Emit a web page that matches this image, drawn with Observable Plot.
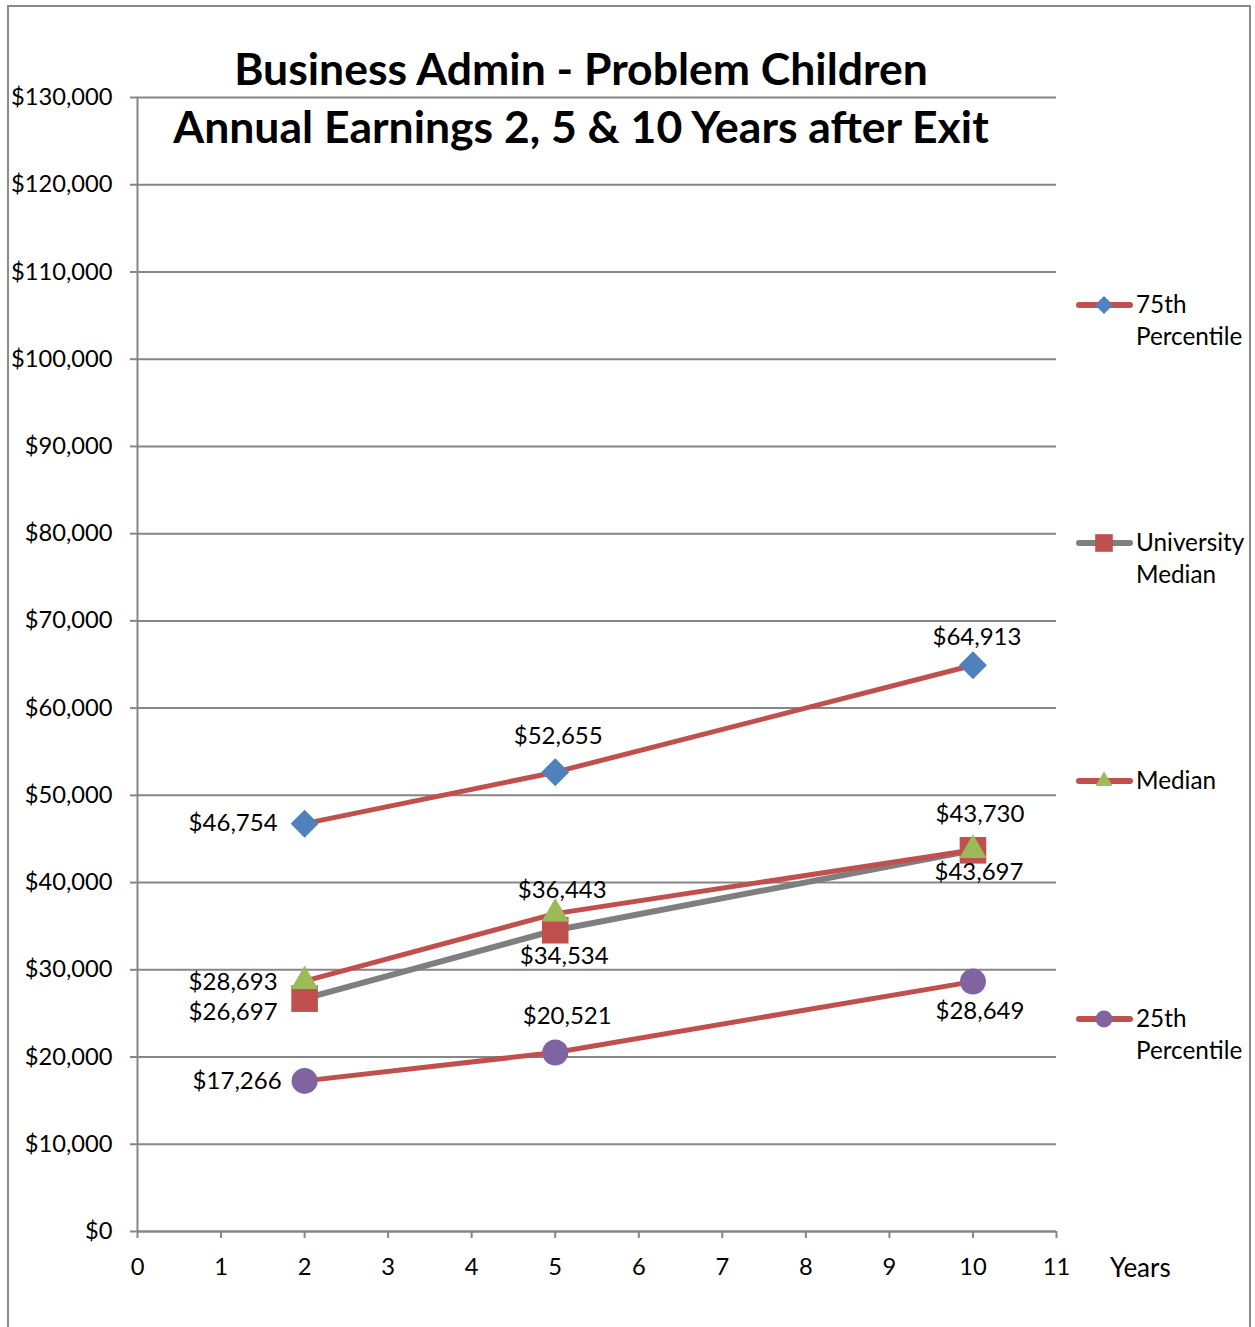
<!DOCTYPE html>
<html>
<head>
<meta charset="utf-8">
<script src="https://cdn.jsdelivr.net/npm/d3@7"></script>
<script src="https://cdn.jsdelivr.net/npm/@observablehq/plot@0.6"></script>
<style>
  html, body { margin: 0; padding: 0; background: #fff; }
  #wrap { position: relative; width: 1255px; height: 1327px; overflow: hidden; font-family: Lato, "Open Sans", sans-serif; }
  #frame { position: absolute; left: 7px; top: 5px; width: 1244px; height: 1340px; border: 2px solid #8a8a8a; box-sizing: border-box; pointer-events: none; }
  #title { position: absolute; left: 0; width: 1162px; top: 39px; text-align: center; font-weight: bold; font-size: 44.5px; line-height: 58px; color: #000; }
  #years { position: absolute; left: 1110px; top: 1251px; font-size: 26px; }
  #legend { position: absolute; left: 1060px; top: 0; }
</style>
</head>
<body>
<div id="wrap">
  <div id="chart"></div>
  <div id="title">Business Admin - Problem Children<br>Annual Earnings 2, 5 &amp; 10 Years after Exit</div>
  <div id="years">Years</div>
  <div id="legend"></div>
  <div id="frame"></div>
</div>
<script>
// ---- data ----
const years = [2, 5, 10];
const seriesNames = ["75th Percentile", "University Median", "Median", "25th Percentile"];
const p75 = [46754, 52655, 64913];
const univMedian = [26697, 34534, 43697];
const median = [28693, 36443, 43730];
const p25 = [17266, 20521, 28649];
const yTickValues = [0, 10000, 20000, 30000, 40000, 50000, 60000, 70000, 80000, 90000, 100000, 110000, 120000, 130000];
const xTickValues = [0, 1, 2, 3, 4, 5, 6, 7, 8, 9, 10, 11];

// ---- styles ----
const fmt = d => "$" + d3.format(",")(d);
const styles = [
  {line: "#C0504D", fill: "#4F81BD", symbol: "diamond2", r: 12.6, lw: 5},
  {line: "#7F7F7F", fill: "#C0504D", symbol: "square", r: 15, lw: 6},
  {line: "#C0504D", fill: "#9BBB59", symbol: "triangle2", r: 13, lw: 5},
  {line: "#C0504D", fill: "#8064A2", symbol: "circle", r: 13, lw: 5}
];
// label offsets [dx, dy, anchor] per series per point
const labelOffsets = [
  [[-27, 0, "end"], [3, -36, "middle"], [4, -28, "middle"]],
  [[-27, 14, "end"], [9, 26, "middle"], [6, 22, "middle"]],
  [[-27, 1, "end"], [7, -23, "middle"], [7, -36, "middle"]],
  [[-23, 0, "end"], [12, -36, "middle"], [7, 30, "middle"]]
];
const values = [p75, univMedian, median, p25];
const series = values.map((vals, i) => years.map((x, j) => ({series: seriesNames[i], x, y: vals[j], idx: i, j})));

const marks = [
  Plot.gridY(yTickValues, {stroke: "#868686", strokeOpacity: 1, strokeWidth: 2}),
  Plot.ruleX([0], {stroke: "#868686", strokeWidth: 2}),
  Plot.ruleY([0], {stroke: "#868686", strokeWidth: 2}),
  Plot.axisY(yTickValues, {tickFormat: fmt, tickSize: 7, tickPadding: 18, stroke: "#868686", strokeWidth: 2, fill: "black", fontSize: 23.7, label: null}),
  Plot.axisX(xTickValues, {tickSize: 7, tickPadding: 20, stroke: "#868686", strokeWidth: 2, fill: "black", fontSize: 23.7, label: null})
];
series.forEach((s, i) => {
  marks.push(Plot.line(s, {x: "x", y: "y", stroke: styles[i].line, strokeWidth: styles[i].lw, strokeLinecap: "round", strokeLinejoin: "round"}));
});
series.forEach((s, i) => {
  marks.push(Plot.dot(s, {x: "x", y: "y", symbol: () => styles[i].symbol, fill: styles[i].fill, r: styles[i].r, stroke: "none"}));
});
series.forEach((s, i) => {
  s.forEach((d, j) => {
    const [dx, dy, anchor] = labelOffsets[i][j];
    marks.push(Plot.text([d], {x: "x", y: "y", text: d => fmt(d.y), dx, dy, textAnchor: anchor, fontSize: 24, fill: "black"}));
  });
});

const chart = Plot.plot({
  width: 1255,
  height: 1327,
  marginLeft: 137,
  marginRight: 199,
  marginTop: 97,
  marginBottom: 96,
  style: {fontFamily: "Lato, 'Open Sans', sans-serif", background: "white"},
  x: {domain: [0, 11], axis: null, label: null},
  y: {domain: [0, 130000], axis: null, label: null},
  symbol: {type: "identity"},
  marks
});
document.getElementById("chart").appendChild(chart);

// ---- legend ----
const legendY = [305, 543, 781, 1019];
const lsvg = d3.select("#legend").append("svg").attr("width", 195).attr("height", 1100).style("overflow", "visible");
seriesNames.forEach((name, i) => {
  const g = lsvg.append("g").attr("transform", `translate(0,${legendY[i]})`);
  g.append("line").attr("x1", 19).attr("x2", 70).attr("y1", 0).attr("y2", 0)
    .attr("stroke", styles[i].line).attr("stroke-width", 6).attr("stroke-linecap", "round");
  const sym = {diamond2: d3.symbolDiamond2, square: d3.symbolSquare, triangle2: d3.symbolTriangle2, circle: d3.symbolCircle}[styles[i].symbol];
  const size = {diamond2: 207, square: 310, triangle2: 207, circle: 227}[styles[i].symbol];
  g.append("path").attr("d", d3.symbol(sym, size)()).attr("transform", "translate(44,0)").attr("fill", styles[i].fill);
  const words = name.split(" ");
  const t = g.append("text").attr("font-size", 24.3).attr("font-family", "Lato, 'Open Sans', sans-serif").attr("fill", "black");
  words.forEach((w, k) => t.append("tspan").attr("x", 76).attr("y", 8 + k * 32).text(w));
});
</script>
</body>
</html>
